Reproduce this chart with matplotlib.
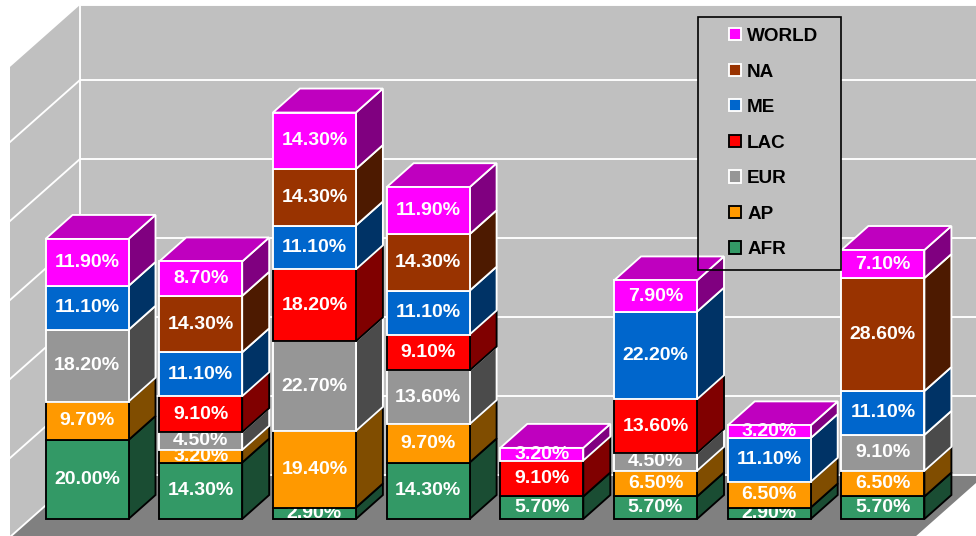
import numpy as np
import matplotlib
matplotlib.use("Agg")
import matplotlib.pyplot as plt
from matplotlib.patches import Polygon, Rectangle, Patch

plt.rcParams['font.family'] = ['Liberation Sans', 'DejaVu Sans']

series = ['AFR', 'AP', 'EUR', 'LAC', 'ME', 'NA', 'WORLD']
afr = [20.0, 14.3, 2.9, 14.3, 5.7, 5.7, 2.9, 5.7]
ap = [9.7, 3.2, 19.4, 9.7, 0, 6.5, 6.5, 6.5]
eur = [18.2, 4.5, 22.7, 13.6, 0, 4.5, 0, 9.1]
lac = [0, 9.1, 18.2, 9.1, 9.1, 13.6, 0, 0]
me = [11.1, 11.1, 11.1, 11.1, 0, 22.2, 11.1, 11.1]
na = [0, 14.3, 14.3, 14.3, 0, 0, 0, 28.6]
world = [11.9, 8.7, 14.3, 11.9, 3.2, 7.9, 3.2, 7.1]
values = [afr, ap, eur, lac, me, na, world]

front_colors = ['#339966', '#FF9900', '#969696', '#FF0000', '#0066CC', '#993300', '#FF00FF']
side_colors = ['#1A4D33', '#804D00', '#4B4B4B', '#800000', '#003366', '#4D1A00', '#800080']
edge_colors = ['black', 'black', 'white', 'black', 'white', 'white', 'white']
top_color = '#BF00BF'
grid_ticks = [0, 20, 40, 60, 80, 100]
wall_max = 119

# pixel scale of the picture
PX_X = 113.7   # px per category
PX_Y = 3.95    # px per percent
W, H = 976, 536
X0, Y0 = 87, 519  # pixel position of x=0, y=0

bar_w = 83 / PX_X
depth_x = 27 / PX_X
depth_y = 24 / PX_Y
lw = 1.35

fig = plt.figure(figsize=(W / 100, H / 100), dpi=100, facecolor='white')
ax = fig.add_axes([0, 0, 1, 1])
ax.set_xlim(-X0 / PX_X, (W - X0) / PX_X)
ax.set_ylim((Y0 - H) / PX_Y, Y0 / PX_Y)
ax.axis('off')

# walls and floor
back_l = (80 - X0) / PX_X
back_r = (985 - X0) / PX_X
front_l = (10 - X0) / PX_X
front_r = (915 - X0) / PX_X
back_y = (Y0 - 475) / PX_Y
front_y = (Y0 - 537) / PX_Y
wall_top = back_y + wall_max

ax.add_patch(Rectangle((back_l, back_y), back_r - back_l, wall_max, fc='#C0C0C0', ec='none', zorder=1))
ax.add_patch(Polygon([(front_l, front_y), (back_l, back_y), (back_l, wall_top), (front_l, front_y + wall_max)],
                     fc='#C0C0C0', ec='none', zorder=1))
ax.add_patch(Polygon([(front_l, front_y), (back_l, back_y), (back_r, back_y), (front_r, front_y)],
                     fc='#808080', ec='none', zorder=1))
for t in grid_ticks:
    ax.plot([front_l, back_l, back_r], [front_y + t, back_y + t, back_y + t], color='white', lw=lw, zorder=2,
            solid_joinstyle='miter')
ax.plot([back_l, back_r], [wall_top, wall_top], color='white', lw=lw, zorder=2)
ax.plot([back_l, back_l], [back_y, wall_top], color='white', lw=lw, zorder=2)

# legend box fill goes behind the bars, its border in front
ax.add_patch(Rectangle((698 / W, 1 - 270 / H), 143 / W, 253 / H, transform=ax.transAxes,
                       fc='#C0C0C0', ec='none', zorder=3))
ax.add_patch(Rectangle((698 / W, 1 - 270 / H), 143 / W, 253 / H, transform=ax.transAxes,
                       fc='none', ec='black', lw=1.2, zorder=500))

z = 10
for i in range(len(afr)):
    base = 0
    last = max(k for k in range(len(series)) if values[k][i] > 0)
    for k in range(len(series)):
        v = values[k][i]
        if v <= 0:
            continue
        l, r = i - bar_w / 2, i + bar_w / 2
        ec = edge_colors[k]
        # side
        ax.add_patch(Polygon([(r, base), (r + depth_x, base + depth_y), (r + depth_x, base + v + depth_y), (r, base + v)],
                             fc=side_colors[k], ec=ec, lw=lw, joinstyle='miter', zorder=z))
        # top face only shows on the last segment
        if k == last:
            ax.add_patch(Polygon([(l, base + v), (l + depth_x, base + v + depth_y), (r + depth_x, base + v + depth_y), (r, base + v)],
                                 fc=top_color, ec=ec, lw=lw, joinstyle='miter', zorder=z))
        ax.add_patch(Rectangle((l, base), bar_w, v, fc=front_colors[k], ec=ec, lw=lw, joinstyle='miter', zorder=z + 1))
        ax.text(i, base + v / 2 + 2 / PX_Y, f'{v:.2f}%', color='white', fontsize=14, fontweight='bold',
                ha='center', va='center_baseline', zorder=z + 2)
        base += v
        z += 3

handles = [Patch(fc=front_colors[k], ec=edge_colors[k], lw=lw, label=series[k]) for k in range(len(series) - 1, -1, -1)]
leg = ax.legend(handles=handles, loc='upper left', bbox_to_anchor=(729 / W, 1 - 28 / H), frameon=False,
                borderpad=0, borderaxespad=0, handlelength=0.62, handleheight=0.62, handletextpad=0.34,
                labelspacing=0.98, prop={'family': 'Liberation Sans', 'weight': 'bold', 'size': 13.6})
leg.set_zorder(501)
for t in leg.get_texts():
    t.set_color('black')

fig.savefig('out.png', dpi=100, facecolor='white')
